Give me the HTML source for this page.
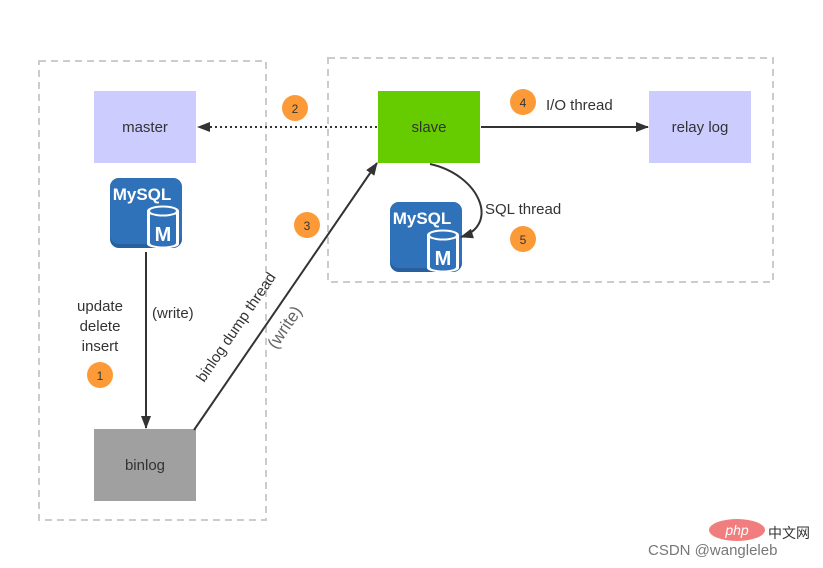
<!DOCTYPE html>
<html><head><meta charset="utf-8"><style>body{margin:0;background:#fff}svg{display:block}text{font-family:"Liberation Sans","DejaVu Sans",sans-serif}</style></head><body>
<svg width="823" height="568" viewBox="0 0 823 568" xmlns="http://www.w3.org/2000/svg">
<defs>
<marker id="ah" markerWidth="14" markerHeight="14" refX="12" refY="6" orient="auto" markerUnits="userSpaceOnUse"><path d="M0,1 L13,6 L0,11 Z" fill="#333"/></marker>
<g id="mysql">
<rect x="0" y="0" width="72" height="70" rx="9" fill="#2a5f9e"/>
<rect x="0" y="0" width="72" height="66" rx="9" fill="#2f72b9"/>
<text x="32" y="22" text-anchor="middle" font-size="17" font-weight="bold" fill="#fff">MySQL</text>
<path d="M37,33 v33 a16,4.5 0 0 0 32,0 v-33 z" fill="#fff"/>
<path d="M40,36 v29 a13,3.5 0 0 0 26,0 v-29 z" fill="#2f72b9"/>
<ellipse cx="53" cy="33" rx="16" ry="5.5" fill="#fff"/>
<ellipse cx="53" cy="33" rx="13" ry="3.5" fill="#2f72b9"/>
<text x="53" y="63" text-anchor="middle" font-size="20" font-weight="bold" fill="#fff">M</text>
</g>
</defs>
<rect x="39" y="61" width="227" height="459" fill="none" stroke="#ccc" stroke-width="2" stroke-dasharray="7,5"/>
<rect x="328" y="58" width="445" height="224" fill="none" stroke="#ccc" stroke-width="2" stroke-dasharray="7,5"/>
<rect x="94" y="91" width="102" height="72" fill="#ccccff"/>
<text x="145" y="132" text-anchor="middle" font-size="15" fill="#333">master</text>
<rect x="378" y="91" width="102" height="72" fill="#66cc00"/>
<text x="429" y="132" text-anchor="middle" font-size="15" fill="#333">slave</text>
<rect x="649" y="91" width="102" height="72" fill="#ccccff"/>
<text x="700" y="132" text-anchor="middle" font-size="15" fill="#333">relay log</text>
<rect x="94" y="429" width="102" height="72" fill="#a0a0a0"/>
<text x="145" y="470" text-anchor="middle" font-size="15" fill="#333">binlog</text>
<use href="#mysql" x="110" y="178"/>
<use href="#mysql" x="390" y="202"/>
<line x1="377" y1="127" x2="198" y2="127" stroke="#333" stroke-width="2" stroke-dasharray="2,3" marker-end="url(#ah)"/>
<line x1="481" y1="127" x2="648" y2="127" stroke="#333" stroke-width="2" marker-end="url(#ah)"/>
<line x1="146" y1="252" x2="146" y2="428" stroke="#333" stroke-width="2" marker-end="url(#ah)"/>
<line x1="194" y1="430" x2="377" y2="163" stroke="#333" stroke-width="2" marker-end="url(#ah)"/>
<path d="M430,164 C480,175 500,225 461,237" fill="none" stroke="#333" stroke-width="2" marker-end="url(#ah)"/>
<g font-size="12" fill="#333" text-anchor="middle">
<circle cx="295" cy="108" r="13" fill="#fd9a38"/><text x="295" y="113">2</text>
<circle cx="523" cy="102" r="13" fill="#fd9a38"/><text x="523" y="107">4</text>
<circle cx="307" cy="225" r="13" fill="#fd9a38"/><text x="307" y="230">3</text>
<circle cx="523" cy="239" r="13" fill="#fd9a38"/><text x="523" y="244">5</text>
<circle cx="100" cy="375" r="13" fill="#fd9a38"/><text x="100" y="380">1</text>
</g>
<g font-size="15" fill="#333">
<text x="546" y="110">I/O thread</text>
<text x="485" y="214">SQL thread</text>
<text x="100" y="311" text-anchor="middle">update</text>
<text x="100" y="331" text-anchor="middle">delete</text>
<text x="100" y="351" text-anchor="middle">insert</text>
<text x="152" y="318">(write)</text>
<text transform="translate(204,383) rotate(-55.7)">binlog dump thread</text>
<text transform="translate(276,350) rotate(-55.7)" font-size="17" fill="#666">(write)</text>
</g>
<ellipse cx="737" cy="530" rx="28" ry="11" fill="#f07070" opacity="0.9"/>
<text x="737" y="535" text-anchor="middle" font-size="14" font-style="italic" fill="#fff">php</text>
<text x="768" y="538" font-size="14" fill="#333" font-family="'Noto Sans CJK SC',sans-serif">中文网</text>
<text x="648" y="555" font-size="15" fill="#777">CSDN @wangleleb</text>
</svg>
</body></html>
